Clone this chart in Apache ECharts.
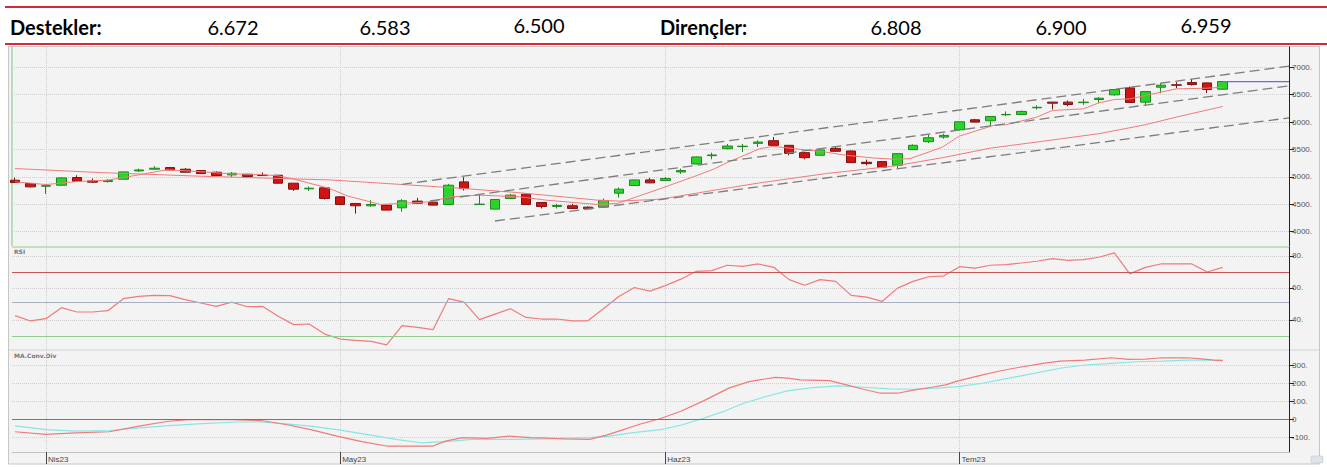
<!DOCTYPE html>
<html><head><meta charset="utf-8">
<script src="https://cdn.jsdelivr.net/npm/echarts@6/dist/echarts.min.js"></script>
<style>html,body{margin:0;padding:0;background:#fff;}#c{width:1327px;height:467px;}</style>
</head><body><div id="c"></div>
<script>
// ---- data ----
const supportLabel = 'Destekler:';
const supports = ['6.672', '6.583', '6.500'];
const resistanceLabel = 'Dirençler:';
const resistances = ['6.808', '6.900', '6.959'];

const monthTicks = [2, 21, 42, 61];
const monthLabels = ['Nis23', 'May23', 'Haz23', 'Tem23'];

const opens = [4939,4879,4830,4848,4988,4927,4915,4958,5109,5140,
  5170,5140,5115,5085,5036,5048,5030,5030,4885,4782,
  4800,4636,4515,4473,4485,4436,4558,4539,4497,4909,
  4495,4412,4606,4685,4533,4461,4473,4448,4448,4703,
  4842,4945,4933,5091,5236,5388,5515,5552,5612,5660,
  5576,5442,5394,5521,5473,5267,5279,5212,5497,5643,
  5727,5860,6042,6024,6133,6139,6261,6364,6364,6355,
  6412,6497,6624,6364,6636,6680,6721,6715,6600];
const closes = [4897,4818,4840,4982,4921,4903,4933,5091,5127,5158,
  5127,5085,5060,5024,5066,5006,5024,4885,4776,4794,
  4606,4497,4473,4497,4394,4564,4521,4485,4848,4788,
  4503,4588,4667,4497,4461,4479,4424,4418,4570,4776,
  4945,4891,4970,5115,5364,5400,5563,5560,5636,5576,
  5430,5351,5491,5467,5260,5242,5176,5424,5576,5715,
  5757,6006,6000,6103,6140,6194,6270,6345,6321,6364,
  6436,6594,6358,6557,6673,6673,6685,6594,6740];
const lows = [4890,4810,4690,4840,4915,4890,4897,4955,5090,5140,
  5120,5080,5055,5020,4995,5000,5020,4880,4745,4745,
  4588,4490,4330,4455,4390,4364,4515,4480,4485,4752,
  4490,4410,4594,4490,4424,4424,4418,4412,4436,4624,
  4838,4885,4927,5055,5230,5321,5503,5455,5545,5570,
  5394,5321,5390,5460,5255,5212,5170,5150,5490,5618,
  5697,5855,5994,5921,6109,6130,6230,6230,6290,6315,
  6350,6480,6350,6303,6527,6618,6667,6527,6590];
const highs = [4988,4885,4860,4990,5030,4970,4958,5095,5150,5195,
  5180,5160,5125,5100,5090,5050,5080,5036,4890,4824,
  4805,4640,4520,4576,4490,4594,4618,4545,4873,4994,
  4680,4590,4690,4690,4540,4509,4509,4460,4606,4806,
  4950,4982,4994,5150,5370,5442,5600,5600,5667,5727,
  5580,5450,5500,5563,5480,5315,5290,5430,5594,5770,
  5788,6010,6060,6110,6194,6210,6303,6370,6394,6424,
  6454,6600,6648,6560,6709,6727,6788,6720,6745];

// moving averages [index, value]
const maLong = [[0,5152],[5.5,5079],[12,5012],[20.3,4945],[25,4861],[29,4788],[32.4,4715],[35.4,4636],
  [37.6,4576],[39,4558],[41.7,4594],[44.9,4745],[48.1,4891],[52.4,5061],[56.7,5195],[59.9,5350],
  [63,5525],[66,5636],[70,5788],[73,5951],[75,6091],[78,6285]];
const maShort = [[0,4910],[2,4860],[4,4915],[6,4940],[7.6,5018],[9.8,5130],[12,5095],[14,5055],[16,5040],
  [17,5020],[18,4960],[20.3,4790],[21.5,4650],[23.6,4497],[26.8,4545],[28.1,4636],[30,4667],[32.6,4636],
  [34.3,4576],[37.6,4497],[38.9,4515],[41.7,4788],[43.8,5000],[45.1,5139],[46,5261],[48.1,5515],
  [49,5557],[50.3,5515],[52,5467],[53.7,5394],[55.4,5345],[56.9,5321],[57.8,5333],[58.9,5442],
  [59.9,5545],[61,5745],[63.2,5939],[64,5951],[66,6091],[67,6212],[69,6242],[70,6351],[71,6412],
  [72,6424],[73,6485],[75,6606],[77,6618],[78,6636]];

// trend channel lines [index, price]
const trendUpper = [[25,4865],[82.28,7021]];
const trendMiddle = [[26.8,4560],[82.28,6661]];
const trendLower = [[31,4195],[82.28,6077]];

const priceTicks = [4000,4500,5000,5500,6000,6500,7000];

const rsi = [42.7,39.4,40.8,47.7,45,45,45.8,53.3,54.7,55.4,
  55.2,52.7,50.6,48.5,51.2,48.3,48.5,42.3,37.1,37.5,
  31.2,28.1,27.3,26.6,24.5,36.5,35.4,34,53.3,51.2,
  40.2,43.7,47,41.6,40.6,40.6,39.5,39.5,47,54.7,
  60.3,58,61.5,65.5,70.4,70.8,74.2,73.5,75,72.9,
  65.2,61.7,65.2,64.1,55.4,54.3,51.6,59.9,64.1,67,
  67.6,73.3,72.4,74.2,74.6,75.6,76.7,78.3,77.3,77.7,
  79.2,81.9,68.8,72.9,75,75,75,70,72.9];
const rsiTicks = [40,60,80];
const rsiUpper = 70, rsiMid = 51.3, rsiLower = 30;

const macd = [[0,-69],[2,-84],[3.9,-75],[6.1,-69],[8,-38],[9.9,-11],[11.2,-2],[14,-2],[15.9,-7],[17.5,-29],
  [19.1,-57],[20.8,-93],[22.4,-124],[24,-148],[25.7,-148],[27,-148],[27.8,-121],[28.9,-102],[30.5,-106],
  [31.9,-93],[33.3,-102],[34.4,-104],[35.5,-108],[37.1,-111],[38.2,-88],[39.3,-57],[40.4,-26],[41.7,4],
  [43,44],[44.4,99],[46.1,172],[47.4,208],[49.1,232],[49.9,227],[50.7,218],[52.6,214],[53.7,190],
  [54.8,166],[55.9,144],[57,144],[58.1,163],[59.2,177],[60.1,190],[60.9,212],[62.5,245],[63.6,267],
  [64.7,285],[66.4,309],[67.5,322],[69.1,327],[70.8,340],[71.9,331],[73,333],[74.1,340],[75.7,340],
  [76.8,333],[77.4,327],[78,324]];
const signal = [[0,-37],[2,-57],[3.9,-66],[6.1,-62],[8,-48],[9.9,-35],[12.1,-24],[14.3,-15],[15.9,-15],
  [17.5,-26],[19.1,-38],[20.8,-57],[22.7,-84],[24.6,-111],[26.2,-130],[27.8,-124],[29.5,-111],
  [31.6,-111],[34.4,-108],[37.1,-102],[38.4,-93],[39.8,-75],[41.7,-57],[43,-33],[44.4,4],[45.8,44],
  [47.1,90],[48.5,126],[49.9,157],[51.5,175],[53.2,185],[54.8,177],[56.5,168],[58.1,166],[59.5,172],
  [60.9,181],[62.5,199],[64.2,227],[65.8,254],[67.5,282],[69.1,300],[70.8,309],[72.4,318],[74.1,322],
  [75.7,327],[77.4,327],[78,327]];
const macdTicks = [-100,0,100,200,300];

// ---- chart ----
const X_MIN = -0.194, X_MAX = 82.28;
const candleData = opens.map((o, i) => [i, o, closes[i], lows[i], highs[i]]);
const lastIdx = closes.length - 1;
const lastLine = [[lastIdx, closes[lastIdx]], [X_MAX, closes[lastIdx]]];

const axisFont = {fontSize: 8, color: '#555', fontFamily: 'Liberation Sans'};
const gridSplit = {show: true, lineStyle: {color: '#cfcfcf', type: 'dotted', width: 1}};

function xAx(i) {
  const bottom = i === 2;
  return {
    type: 'value', gridIndex: i, min: X_MIN, max: X_MAX,
    axisLine: {show: bottom, onZero: false, lineStyle: {color: '#c4c4c4'}},
    axisTick: {show: bottom, customValues: monthTicks, length: 12, lineStyle: {color: '#444'}},
    axisLabel: Object.assign({show: bottom, customValues: monthTicks, align: 'left', margin: 3,
      padding: [0, 0, 0, 2], formatter: v => monthLabels[monthTicks.indexOf(v)] || ''}, axisFont, {color: '#444'}),
    splitLine: gridSplit
  };
}
function yAx(i, min, max, ticks, fmt) {
  return {
    type: 'value', gridIndex: i, position: 'right', min: min, max: max,
    axisLine: {show: true, onZero: false, lineStyle: {color: '#222'}},
    axisTick: {show: true, customValues: ticks, length: 5, lineStyle: {color: '#222'}},
    axisLabel: Object.assign({customValues: ticks, margin: 3, formatter: fmt}, axisFont),
    splitLine: gridSplit
  };
}
const lineBase = {type: 'line', symbol: 'none', silent: true, animation: false};
const pink = '#f07b7b';
const dashed = {color: '#7d7d7d', width: 1.3, type: [10, 5]};

const option = {
  animation: false,
  backgroundColor: '#ffffff',
  grid: [
    {left: 12, width: 1277, top: 47, height: 199},
    {left: 12, width: 1277, top: 247, height: 103},
    {left: 12, width: 1277, top: 350, height: 102}
  ],
  xAxis: [xAx(0), xAx(1), xAx(2)],
  yAxis: [
    yAx(0, 3739, 7370, priceTicks, v => v + '.'),
    yAx(1, 21.25, 85.6, rsiTicks, v => v + '.'),
    yAx(2, -181, 383, macdTicks, v => v === 0 ? '0' : v + '.')
  ],
  series: [
    {type: 'candlestick', xAxisIndex: 0, yAxisIndex: 0, barWidth: 10, data: candleData, silent: true,
      itemStyle: {color: '#2bd42b', color0: '#d01414', borderColor: '#1d8a1d', borderColor0: '#7e1010', borderWidth: 1}},
    Object.assign({}, lineBase, {xAxisIndex: 0, yAxisIndex: 0, data: maLong, lineStyle: {color: pink, width: 1}}),
    Object.assign({}, lineBase, {xAxisIndex: 0, yAxisIndex: 0, data: maShort, lineStyle: {color: pink, width: 1}}),
    Object.assign({}, lineBase, {xAxisIndex: 0, yAxisIndex: 0, data: trendUpper, lineStyle: dashed}),
    Object.assign({}, lineBase, {xAxisIndex: 0, yAxisIndex: 0, data: trendMiddle, lineStyle: dashed}),
    Object.assign({}, lineBase, {xAxisIndex: 0, yAxisIndex: 0, data: trendLower, lineStyle: dashed}),
    Object.assign({}, lineBase, {xAxisIndex: 0, yAxisIndex: 0, data: lastLine, z: 5, lineStyle: {color: '#6a6ae6', width: 1.2}}),
    Object.assign({}, lineBase, {xAxisIndex: 1, yAxisIndex: 1, data: rsi.map((v, i) => [i, v]),
      lineStyle: {color: pink, width: 1.2},
      markLine: {silent: true, symbol: 'none', label: {show: false}, animation: false,
        data: [
          {yAxis: rsiUpper, lineStyle: {color: '#c65454', type: 'solid', width: 1}},
          {yAxis: rsiMid, lineStyle: {color: '#a9b0c4', type: 'solid', width: 1}},
          {yAxis: rsiLower, lineStyle: {color: '#8fcc8f', type: 'solid', width: 1.2}}
        ]}}),
    Object.assign({}, lineBase, {xAxisIndex: 2, yAxisIndex: 2, data: signal, lineStyle: {color: '#86e6e6', width: 1.2}}),
    Object.assign({}, lineBase, {xAxisIndex: 2, yAxisIndex: 2, data: macd, lineStyle: {color: pink, width: 1.2},
      markLine: {silent: true, symbol: 'none', label: {show: false}, animation: false,
        data: [{yAxis: 0, lineStyle: {color: '#c65454', type: 'solid', width: 1}}]}})
  ],
  graphic: [
    {type: 'rect', z: -10, silent: true, shape: {x: 8.5, y: 46.5, width: 1311, height: 417.5},
      style: {fill: '#f3f3f3', stroke: '#c6c6c6', lineWidth: 1}},
    {type: 'line', silent: true, shape: {x1: 5, y1: 7, x2: 1327, y2: 7}, style: {stroke: '#d42a37', lineWidth: 2}},
    {type: 'line', silent: true, shape: {x1: 5, y1: 44, x2: 1327, y2: 44}, style: {stroke: '#d42a37', lineWidth: 2}},
    {type: 'text', silent: true, style: {text: supportLabel, x: 10, y: 27, textVerticalAlign: 'middle',
      font: 'bold 20px Lato', fill: '#000'}},
    {type: 'text', silent: true, style: {text: supports[0], x: 233, y: 27, textAlign: 'center', textVerticalAlign: 'middle', font: '20px Lato', fill: '#000'}},
    {type: 'text', silent: true, style: {text: supports[1], x: 385, y: 27, textAlign: 'center', textVerticalAlign: 'middle', font: '20px Lato', fill: '#000'}},
    {type: 'text', silent: true, style: {text: supports[2], x: 539, y: 25, textAlign: 'center', textVerticalAlign: 'middle', font: '20px Lato', fill: '#000'}},
    {type: 'text', silent: true, style: {text: resistanceLabel, x: 660, y: 27, textVerticalAlign: 'middle',
      font: 'bold 20px Lato', fill: '#000'}},
    {type: 'text', silent: true, style: {text: resistances[0], x: 896, y: 27, textAlign: 'center', textVerticalAlign: 'middle', font: '20px Lato', fill: '#000'}},
    {type: 'text', silent: true, style: {text: resistances[1], x: 1061, y: 27, textAlign: 'center', textVerticalAlign: 'middle', font: '20px Lato', fill: '#000'}},
    {type: 'text', silent: true, style: {text: resistances[2], x: 1206, y: 25, textAlign: 'center', textVerticalAlign: 'middle', font: '20px Lato', fill: '#000'}},
    {type: 'line', silent: true, shape: {x1: 12, y1: 47, x2: 12, y2: 246}, style: {stroke: '#a3d9a3', lineWidth: 1.5}},
    {type: 'line', silent: true, shape: {x1: 12, y1: 247, x2: 1289, y2: 247}, style: {stroke: '#acdcac', lineWidth: 1.5}},
    {type: 'line', silent: true, shape: {x1: 9, y1: 350, x2: 1319, y2: 350}, style: {stroke: '#d2d2d2', lineWidth: 1}},
    {type: 'text', silent: true, style: {text: 'RSI', x: 14, y: 251, textVerticalAlign: 'middle', font: 'bold 6px "DejaVu Sans"', fill: '#777'}},
    {type: 'text', silent: true, style: {text: 'MA.Conv.Div', x: 14, y: 355, textVerticalAlign: 'middle', font: 'bold 6px "DejaVu Sans"', fill: '#777'}},
    {type: 'rect', silent: true, shape: {x: 1311, y: 456, width: 12, height: 7, r: 1}, style: {fill: '#dfe3ea', stroke: '#b8bec8', lineWidth: 0.5}}
  ]
};
const chart = echarts.init(document.getElementById('c'), null, {renderer: 'svg'});
chart.setOption(option);
</script>
</body></html>
